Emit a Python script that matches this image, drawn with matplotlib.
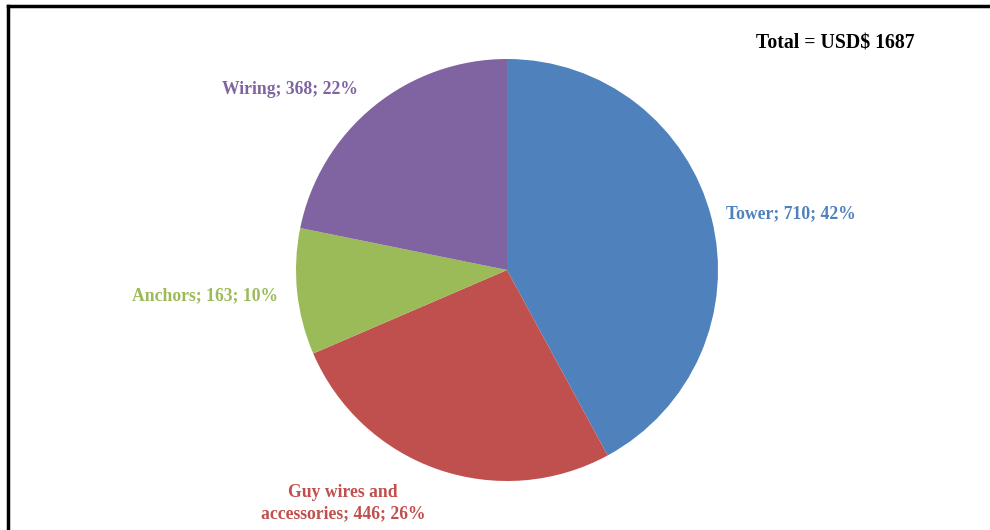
import matplotlib
matplotlib.use("Agg")
import matplotlib.pyplot as plt
from matplotlib.lines import Line2D

# Cost breakdown of the mast (USD)
names = ["Tower", "Guy wires and\naccessories", "Anchors", "Wiring"]
costs = [710, 446, 163, 368]
colors = ["#4F81BD", "#C0504D", "#9BBB59", "#8064A2"]
total = sum(costs)

W, H = 990, 530
fig = plt.figure(figsize=(W / 100, H / 100), dpi=100)
ax = fig.add_axes([0, 0, 1, 1])
ax.set_xlim(0, W)
ax.set_ylim(0, H)
ax.set_aspect("equal")
ax.axis("off")

center = (507, H - 270)
radius = 211
ax.pie(costs, colors=colors, startangle=90, counterclock=False,
       center=center, radius=radius, frame=True,
       wedgeprops=dict(linewidth=0))
ax.set_xlim(0, W)
ax.set_ylim(0, H)
ax.axis("off")

font = dict(family="Liberation Serif", weight="bold", fontsize=12.7)

# label anchor points (pixels from top-left) and alignment
label_pos = [(726, 214, "left"), (343, 503, "center"),
             (205, 296, "center"), (290, 89, "center")]
for name, v, c, (x, y, ha) in zip(names, costs, colors, label_pos):
    pct = round(100 * v / total)
    ax.text(x, H - y, f"{name}; {v}; {pct}%", color=c, ha=ha, va="center",
            linespacing=1.3, **font)

ax.text(835, H - 43, f"Total = USD$ {total}", color="black",
        ha="center", va="center", **dict(font, fontsize=14.2))

# frame lines along the top and left edges
fig.add_artist(Line2D([8 / W, 1], [1 - 6 / H, 1 - 6 / H], color="black", lw=2.5))
fig.add_artist(Line2D([8 / W, 8 / W], [0, 1 - 6 / H], color="black", lw=2.5))

fig.savefig("out.png", dpi=100, facecolor="white")
